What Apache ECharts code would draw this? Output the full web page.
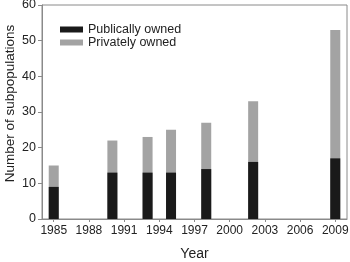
<!DOCTYPE html>
<html lang="en">
<head>
    <meta charset="utf-8">
    <title>Subpopulations by year</title>
    <style>
        html, body { margin: 0; padding: 0; background: #fff; }
        #chart { width: 350px; height: 262px; }
    </style>
</head>
<body>
    <div id="chart"></div>
    <script src="https://cdn.jsdelivr.net/npm/echarts@6/dist/echarts.min.js"></script>
    <script type="text/javascript">
        // survey years and counts
        var years = [1985, 1990, 1993, 1995, 1998, 2002, 2009];
        var publicOwned = [9, 13, 13, 13, 14, 16, 17];
        var privateOwned = [6, 9, 10, 12, 13, 17, 36];
        var yearTicks = [1985, 1988, 1991, 1994, 1997, 2000, 2003, 2006, 2009];

        var font = "'Liberation Sans', Arial, sans-serif";
        var axisColor = "#8a8a8a";

        // bars on a value axis don't stack, so draw the total in grey and the public part over it
        var totals = years.map(function (y, i) { return [y, publicOwned[i] + privateOwned[i]]; });
        var publics = years.map(function (y, i) { return [y, publicOwned[i]]; });

        var chart = echarts.init(document.getElementById("chart"));
        chart.setOption({
            animation: false,
            backgroundColor: "#fff",
            textStyle: { fontFamily: font },
            grid: {
                show: true,
                left: 42,
                right: 3,
                top: 5,
                bottom: 43,
                outerBoundsMode: "none",
                borderColor: axisColor,
                borderWidth: 1
            },
            legend: {
                orient: "vertical",
                left: 55,
                top: 18,
                padding: 5,
                itemWidth: 23,
                itemHeight: 6,
                itemGap: 0,
                icon: "rect",
                textStyle: { fontFamily: font, fontSize: 12.5, lineHeight: 13, color: "#222" },
                data: ["Publically owned", "Privately owned"]
            },
            xAxis: {
                type: "value",
                min: 1984,
                max: 2010,
                name: "Year",
                nameLocation: "middle",
                nameGap: 28,
                nameMoveOverlap: false,
                nameTextStyle: { fontFamily: font, fontSize: 14, color: "#222" },
                splitLine: { show: false },
                axisLine: { lineStyle: { color: axisColor } },
                axisTick: { length: 3, customValues: yearTicks, lineStyle: { color: axisColor } },
                axisLabel: {
                    customValues: yearTicks,
                    formatter: function (v) { return String(v); },
                    fontFamily: font,
                    fontSize: 12,
                    color: "#222",
                    margin: 6
                }
            },
            yAxis: {
                type: "value",
                min: 0,
                max: 60,
                interval: 10,
                name: "Number of subpopulations",
                nameLocation: "middle",
                nameGap: 25,
                nameMoveOverlap: false,
                nameTextStyle: { fontFamily: font, fontSize: 13.5, color: "#222", padding: [0, 0, 0, 17] },
                splitLine: { show: false },
                axisLine: { show: true, lineStyle: { color: axisColor } },
                axisTick: { show: true, length: 4, lineStyle: { color: axisColor } },
                axisLabel: { fontFamily: font, fontSize: 12.5, color: "#222", margin: 6 }
            },
            series: [{
                name: "Privately owned",
                type: "bar",
                barWidth: 10,
                barGap: "-100%",
                itemStyle: { color: "#a3a3a3" },
                data: totals
            }, {
                name: "Publically owned",
                type: "bar",
                barWidth: 10,
                barGap: "-100%",
                itemStyle: { color: "#1a1a1a" },
                data: publics
            }]
        });
    </script>
</body>
</html>
